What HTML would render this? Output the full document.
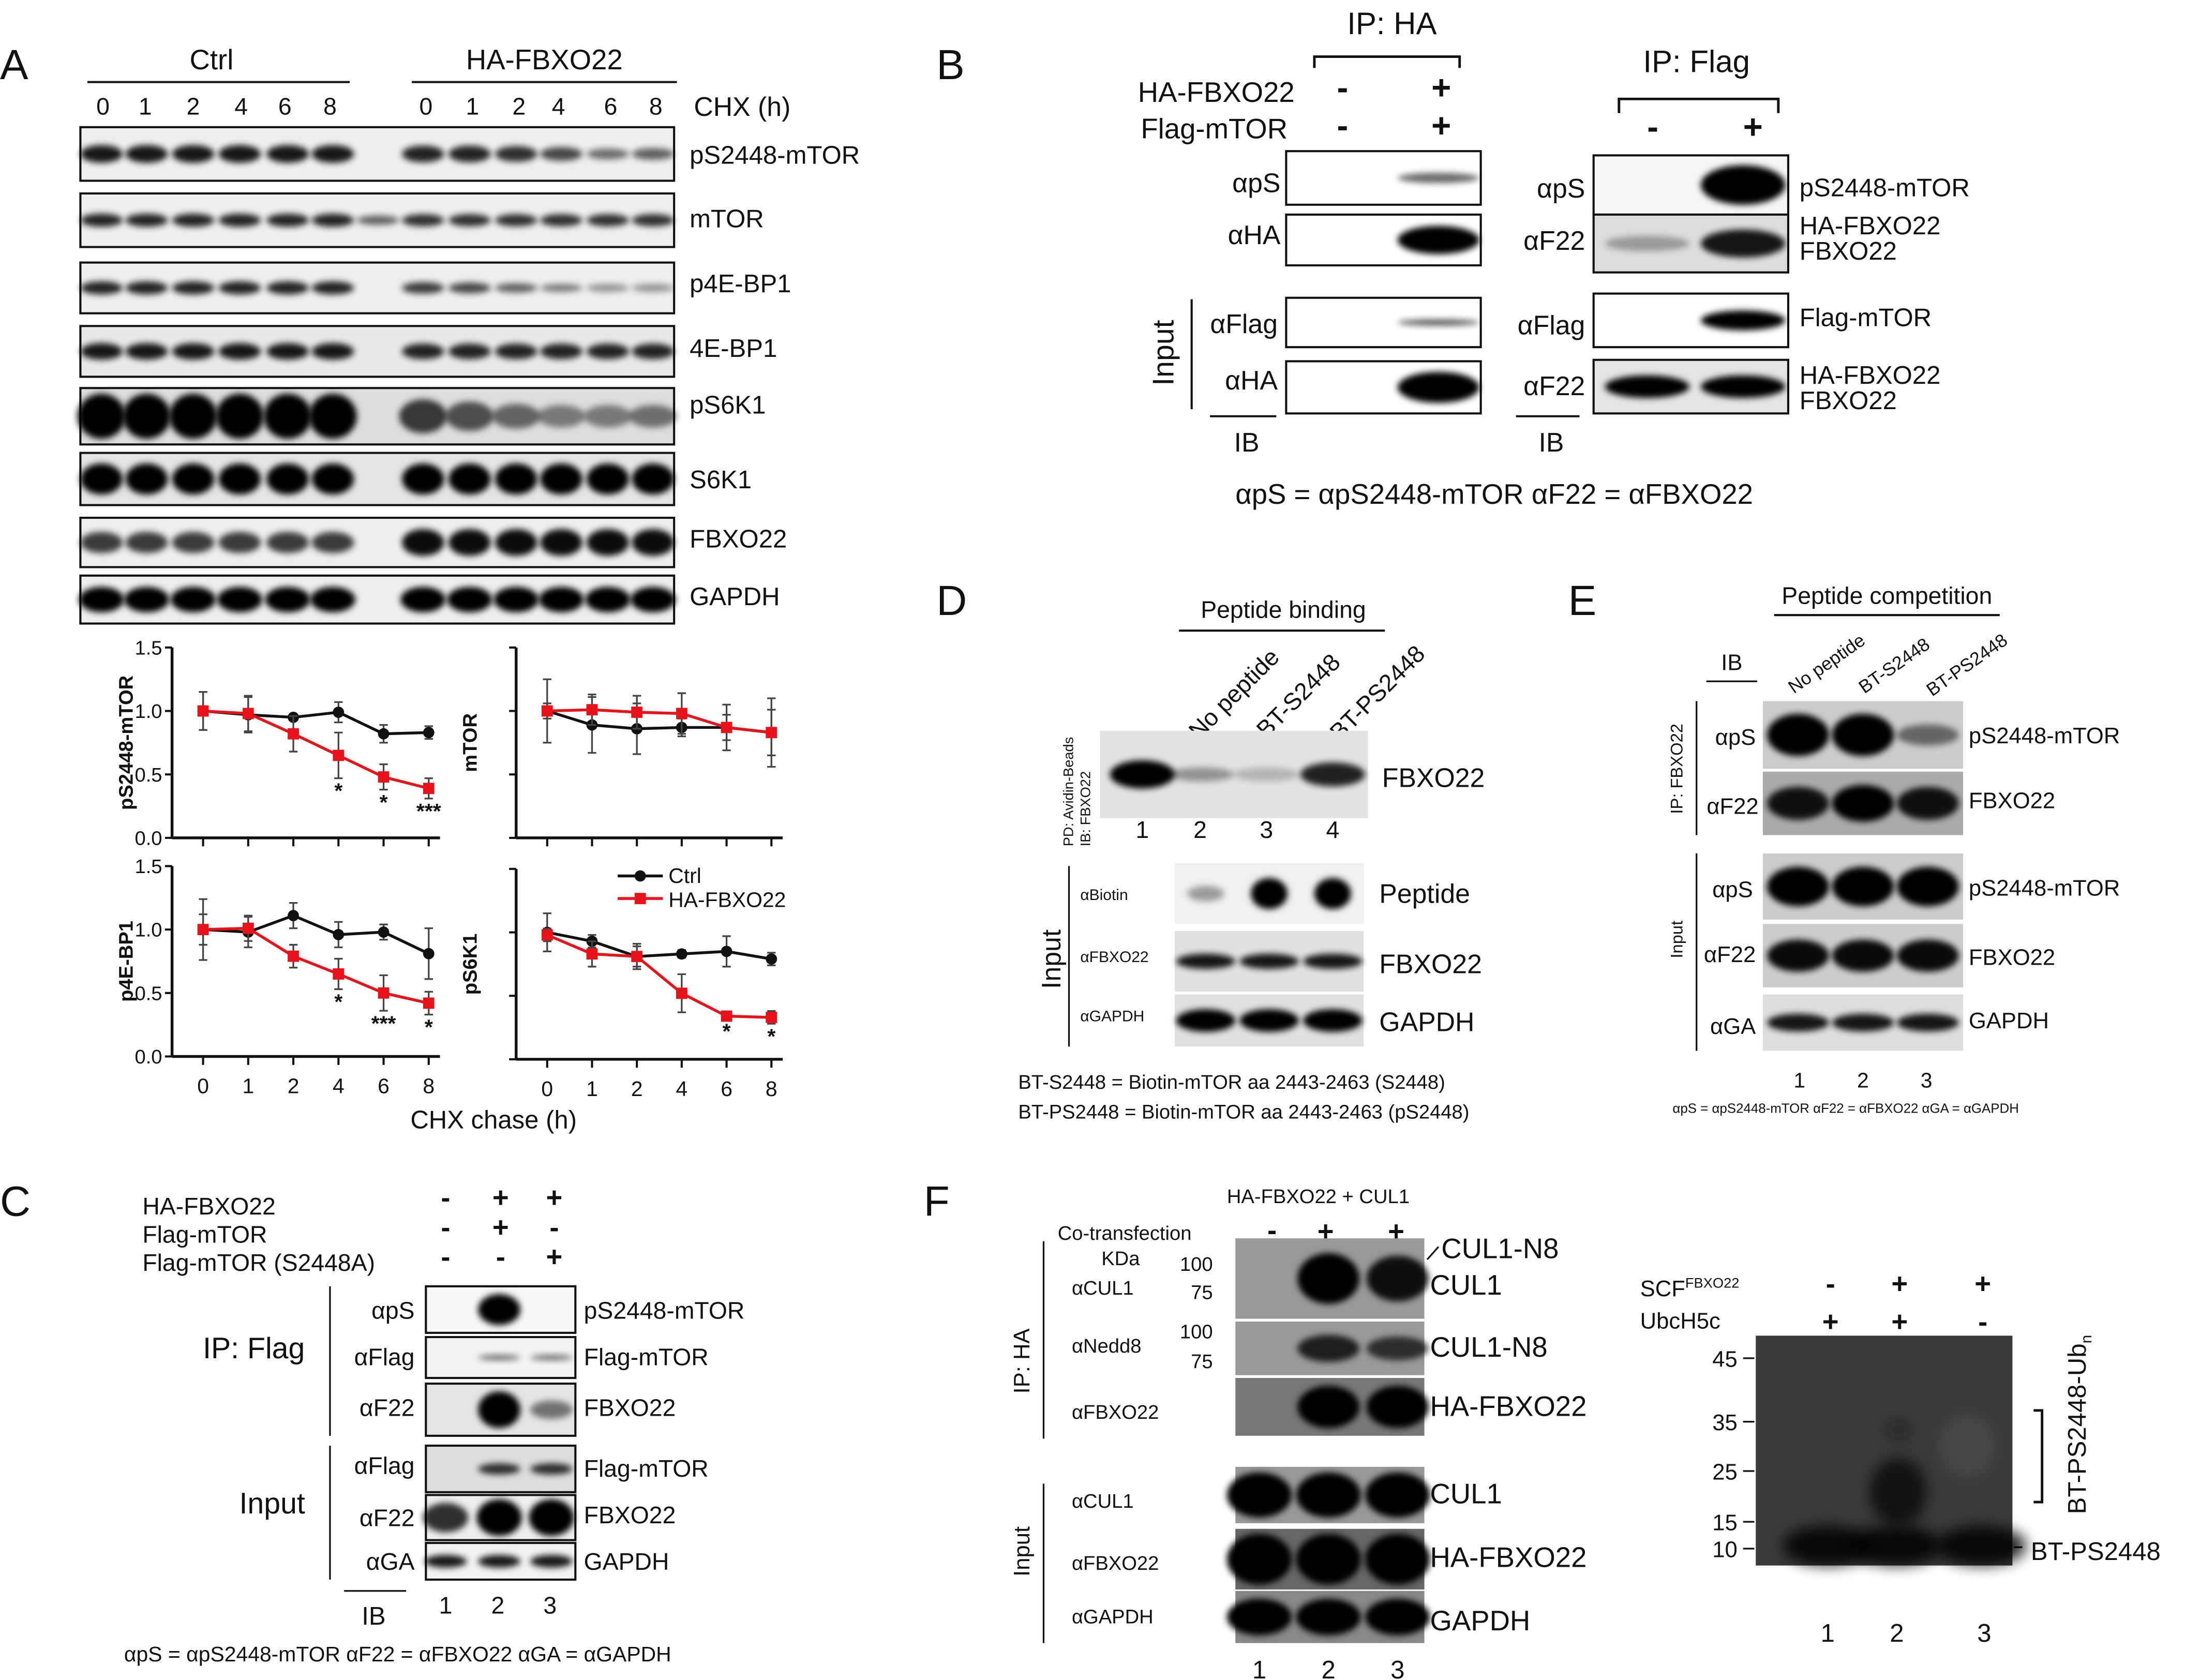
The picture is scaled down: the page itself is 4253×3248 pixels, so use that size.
<!DOCTYPE html>
<html><head><meta charset="utf-8">
<style>
html,body{margin:0;padding:0;background:#fff;}
svg{display:block;}
text{font-family:"Liberation Sans",Arial,sans-serif;fill:#111;}
</style></head>
<body>
<svg id="fig" width="4253" height="3248" viewBox="0 0 1560 1191" xmlns="http://www.w3.org/2000/svg">
<defs>
<filter id="blur" x="-50%" y="-100%" width="200%" height="300%"><feGaussianBlur stdDeviation="2.2"/></filter>
<filter id="blur2" x="-50%" y="-100%" width="200%" height="300%"><feGaussianBlur stdDeviation="5"/></filter>
</defs>

<!-- ============ PANEL A ============ -->
<g>
<text x="0" y="56" font-size="30">A</text>
<text x="150" y="49" font-size="20" text-anchor="middle">Ctrl</text>
<line x1="62" y1="58" x2="248" y2="58" stroke="#111" stroke-width="1.5"/>
<text x="386" y="49" font-size="20" text-anchor="middle">HA-FBXO22</text>
<line x1="292" y1="58" x2="480" y2="58" stroke="#111" stroke-width="1.5"/>
<g font-size="17" text-anchor="middle">
<text x="73" y="81">0</text><text x="103" y="81">1</text><text x="137" y="81">2</text><text x="171" y="81">4</text><text x="202" y="81">6</text><text x="234" y="81">8</text>
<text x="302" y="81">0</text><text x="335" y="81">1</text><text x="368" y="81">2</text><text x="396" y="81">4</text><text x="433" y="81">6</text><text x="465" y="81">8</text>
</g>
<text x="492" y="82" font-size="19">CHX (h)</text>
<g id="blotsA"></g>
<g font-size="18">
<text x="489" y="116">pS2448-mTOR</text><text x="489" y="161">mTOR</text><text x="489" y="207">p4E-BP1</text>
<text x="489" y="253">4E-BP1</text><text x="489" y="293">pS6K1</text><text x="489" y="346">S6K1</text>
<text x="489" y="388">FBXO22</text><text x="489" y="429">GAPDH</text>
</g>
<g id="chartsA"></g>
<text x="350" y="800" font-size="18" text-anchor="middle">CHX chase (h)</text>
</g>

<!-- ============ PANEL B ============ -->
<g>
<text x="664" y="56" font-size="30">B</text>
<text x="987" y="24" font-size="22" text-anchor="middle">IP: HA</text>
<path d="M932 48 V40 H1035 V48" fill="none" stroke="#111" stroke-width="1.8"/>
<text x="1203" y="51" font-size="22" text-anchor="middle">IP: Flag</text>
<path d="M1148 80 V70 H1261 V80" fill="none" stroke="#111" stroke-width="1.8"/>
<text x="918" y="72" font-size="20" text-anchor="end">HA-FBXO22</text>
<text x="913" y="98" font-size="20" text-anchor="end">Flag-mTOR</text>
<g font-size="24" font-weight="bold" text-anchor="middle">
<text x="952" y="70">-</text><text x="1022" y="70">+</text>
<text x="952" y="97">-</text><text x="1022" y="97">+</text>
<text x="1172" y="98">-</text><text x="1243" y="98">+</text>
</g>
<g font-size="19" text-anchor="end">
<text x="908" y="136">αpS</text><text x="908" y="173">αHA</text>
<text x="906" y="236">αFlag</text><text x="906" y="276">αHA</text>
<text x="1124" y="140">αpS</text><text x="1124" y="177">αF22</text>
<text x="1124" y="237">αFlag</text><text x="1124" y="280">αF22</text>
</g>
<text transform="translate(832,250) rotate(-90)" font-size="21" text-anchor="middle">Input</text>
<line x1="845" y1="212" x2="845" y2="290" stroke="#111" stroke-width="1.5"/>
<line x1="858" y1="295" x2="905" y2="295" stroke="#111" stroke-width="1.5"/>
<text x="884" y="320" font-size="19" text-anchor="middle">IB</text>
<line x1="1075" y1="295" x2="1120" y2="295" stroke="#111" stroke-width="1.5"/>
<text x="1100" y="320" font-size="19" text-anchor="middle">IB</text>
<g font-size="18">
<text x="1276" y="139">pS2448-mTOR</text><text x="1276" y="166">HA-FBXO22</text><text x="1276" y="184">FBXO22</text>
<text x="1276" y="231">Flag-mTOR</text><text x="1276" y="272">HA-FBXO22</text><text x="1276" y="290">FBXO22</text>
</g>
<text x="876" y="357" font-size="20">αpS = αpS2448-mTOR    αF22 = αFBXO22</text>
<g id="blotsB"></g>
</g>

<!-- ============ PANEL D ============ -->
<g>
<text x="664" y="436" font-size="30">D</text>
<text x="910" y="438" font-size="17" text-anchor="middle">Peptide binding</text>
<line x1="836" y1="447" x2="982" y2="447" stroke="#111" stroke-width="1.5"/>
<g font-size="17">
<text transform="translate(850,525) rotate(-45)">No peptide</text>
<text transform="translate(898,524) rotate(-45)">BT-S2448</text>
<text transform="translate(950,526) rotate(-45)">BT-PS2448</text>
</g>
<text transform="translate(761,600) rotate(-90)" font-size="10">PD: Avidin-Beads</text>
<text transform="translate(773,600) rotate(-90)" font-size="10">IB: FBXO22</text>
<text x="980" y="558" font-size="19">FBXO22</text>
<g font-size="17" text-anchor="middle"><text x="810" y="594">1</text><text x="851" y="594">2</text><text x="898" y="594">3</text><text x="945" y="594">4</text></g>
<text transform="translate(752,680) rotate(-90)" font-size="19" text-anchor="middle">Input</text>
<line x1="758" y1="614" x2="758" y2="742" stroke="#111" stroke-width="1.2"/>
<g font-size="11"><text x="766" y="638">αBiotin</text><text x="766" y="682">αFBXO22</text><text x="766" y="724">αGAPDH</text></g>
<g font-size="19"><text x="978" y="640">Peptide</text><text x="978" y="690">FBXO22</text><text x="978" y="731">GAPDH</text></g>
<text x="722" y="772" font-size="14">BT-S2448 = Biotin-mTOR aa 2443-2463 (S2448)</text>
<text x="722" y="793" font-size="14">BT-PS2448 = Biotin-mTOR aa 2443-2463 (pS2448)</text>
<g id="blotsD"></g>
</g>

<!-- ============ PANEL E ============ -->
<g>
<text x="1112" y="436" font-size="30">E</text>
<text x="1338" y="428" font-size="17" text-anchor="middle">Peptide competition</text>
<line x1="1258" y1="436" x2="1418" y2="436" stroke="#111" stroke-width="1.5"/>
<text x="1228" y="475" font-size="16" text-anchor="middle">IB</text>
<line x1="1210" y1="483" x2="1246" y2="483" stroke="#111" stroke-width="1.2"/>
<g font-size="13">
<text transform="translate(1272,492) rotate(-35)">No peptide</text>
<text transform="translate(1322,492) rotate(-35)">BT-S2448</text>
<text transform="translate(1370,494) rotate(-35)">BT-PS2448</text>
</g>
<g font-size="16" text-anchor="end">
<text x="1245" y="528">αpS</text><text x="1247" y="577">αF22</text>
<text x="1243" y="636">αpS</text><text x="1245" y="682">αF22</text><text x="1245" y="733">αGA</text>
</g>
<text transform="translate(1193,545) rotate(-90)" font-size="12" text-anchor="middle">IP: FBXO22</text>
<text transform="translate(1193,666) rotate(-90)" font-size="12" text-anchor="middle">Input</text>
<line x1="1203" y1="497" x2="1203" y2="592" stroke="#111" stroke-width="1.2"/>
<line x1="1203" y1="605" x2="1203" y2="745" stroke="#111" stroke-width="1.2"/>
<g font-size="16"><text x="1396" y="527">pS2448-mTOR</text><text x="1396" y="573">FBXO22</text><text x="1396" y="635">pS2448-mTOR</text><text x="1396" y="684">FBXO22</text><text x="1396" y="729">GAPDH</text></g>
<g font-size="15" text-anchor="middle"><text x="1276" y="771">1</text><text x="1321" y="771">2</text><text x="1366" y="771">3</text></g>
<text x="1186" y="789" font-size="9.5">αpS = αpS2448-mTOR      αF22 = αFBXO22      αGA = αGAPDH</text>
<g id="blotsE"></g>
</g>

<!-- ============ PANEL C ============ -->
<g>
<text x="0" y="862" font-size="30">C</text>
<g font-size="17"><text x="101" y="861">HA-FBXO22</text><text x="101" y="881">Flag-mTOR</text><text x="101" y="901">Flag-mTOR (S2448A)</text></g>
<g font-size="20" font-weight="bold" text-anchor="middle">
<text x="316" y="856">-</text><text x="355" y="856">+</text><text x="393" y="856">+</text>
<text x="316" y="877">-</text><text x="355" y="877">+</text><text x="393" y="877">-</text>
<text x="316" y="898">-</text><text x="355" y="898">-</text><text x="393" y="898">+</text>
</g>
<g font-size="17" text-anchor="end">
<text x="294" y="935">αpS</text><text x="294" y="968">αFlag</text><text x="294" y="1004">αF22</text>
<text x="294" y="1045">αFlag</text><text x="294" y="1082">αF22</text><text x="294" y="1113">αGA</text>
</g>
<text x="180" y="963" font-size="21" text-anchor="middle">IP: Flag</text>
<text x="193" y="1073" font-size="21" text-anchor="middle">Input</text>
<line x1="234" y1="912" x2="234" y2="1018" stroke="#111" stroke-width="1.2"/>
<line x1="234" y1="1025" x2="234" y2="1120" stroke="#111" stroke-width="1.2"/>
<line x1="244" y1="1128" x2="288" y2="1128" stroke="#111" stroke-width="1.2"/>
<text x="265" y="1152" font-size="18" text-anchor="middle">IB</text>
<g font-size="17" text-anchor="middle"><text x="316" y="1144">1</text><text x="353" y="1144">2</text><text x="390" y="1144">3</text></g>
<g font-size="17"><text x="414" y="935">pS2448-mTOR</text><text x="414" y="968">Flag-mTOR</text><text x="414" y="1004">FBXO22</text>
<text x="414" y="1047">Flag-mTOR</text><text x="414" y="1080">FBXO22</text><text x="414" y="1113">GAPDH</text></g>
<text x="88" y="1178" font-size="15">αpS = αpS2448-mTOR   αF22 = αFBXO22 αGA = αGAPDH</text>
<g id="blotsC"></g>
</g>

<!-- ============ PANEL F ============ -->
<g>
<text x="655" y="862" font-size="30">F</text>
<text x="870" y="853" font-size="14">HA-FBXO22 + CUL1</text>
<text x="750" y="879" font-size="14">Co-transfection</text>
<g font-size="20" font-weight="bold" text-anchor="middle"><text x="902" y="879">-</text><text x="940" y="880">+</text><text x="990" y="880">+</text></g>
<text x="781" y="897" font-size="14">KDa</text>
<g font-size="14" text-anchor="end"><text x="860" y="901">100</text><text x="860" y="921">75</text><text x="860" y="949">100</text><text x="860" y="970">75</text></g>
<g font-size="14"><text x="760" y="918">αCUL1</text><text x="760" y="959">αNedd8</text><text x="760" y="1006">αFBXO22</text>
<text x="760" y="1069">αCUL1</text><text x="760" y="1113">αFBXO22</text><text x="760" y="1151">αGAPDH</text></g>
<text transform="translate(730,965) rotate(-90)" font-size="16" text-anchor="middle">IP: HA</text>
<text transform="translate(730,1100) rotate(-90)" font-size="16" text-anchor="middle">Input</text>
<line x1="740" y1="880" x2="740" y2="1020" stroke="#111" stroke-width="1.2"/>
<line x1="740" y1="1052" x2="740" y2="1165" stroke="#111" stroke-width="1.2"/>
<g font-size="20"><text x="1022" y="892">CUL1-N8</text><text x="1014" y="918">CUL1</text><text x="1014" y="962">CUL1-N8</text><text x="1014" y="1004">HA-FBXO22</text>
<text x="1014" y="1066">CUL1</text><text x="1014" y="1111">HA-FBXO22</text><text x="1014" y="1156">GAPDH</text></g>
<line x1="1012" y1="893" x2="1020" y2="884" stroke="#111" stroke-width="1.2"/>
<g font-size="18" text-anchor="middle"><text x="893" y="1190">1</text><text x="942" y="1190">2</text><text x="991" y="1190">3</text></g>

<text x="1163" y="919" font-size="16">SCF<tspan font-size="10" dy="-6">FBXO22</tspan></text>
<text x="1163" y="942" font-size="16">UbcH5c</text>
<g font-size="20" font-weight="bold" text-anchor="middle">
<text x="1298" y="917">-</text><text x="1347" y="917">+</text><text x="1406" y="917">+</text>
<text x="1298" y="944">+</text><text x="1347" y="944">+</text><text x="1406" y="944">-</text>
</g>
<g font-size="16" text-anchor="end"><text x="1232" y="969">45</text><text x="1232" y="1014">35</text><text x="1232" y="1049">25</text><text x="1232" y="1085">15</text><text x="1232" y="1104">10</text></g>
<g stroke="#111" stroke-width="1.2"><line x1="1236" y1="963" x2="1244" y2="963"/><line x1="1236" y1="1008" x2="1244" y2="1008"/><line x1="1236" y1="1043" x2="1244" y2="1043"/><line x1="1236" y1="1079" x2="1244" y2="1079"/><line x1="1236" y1="1098" x2="1244" y2="1098"/><line x1="1428" y1="1097" x2="1434" y2="1097"/></g>
<text x="1440" y="1106" font-size="18">BT-PS2448</text>
<path d="M1442 1000 H1448 V1065 H1442" fill="none" stroke="#111" stroke-width="1.8"/>
<text transform="translate(1479,1010) rotate(-90)" font-size="18" text-anchor="middle">BT-PS2448-Ub<tspan font-size="11" dy="4">n</tspan></text>
<g font-size="18" text-anchor="middle"><text x="1296" y="1164">1</text><text x="1345" y="1164">2</text><text x="1407" y="1164">3</text></g>
<g id="blotsF"></g>
</g>
</svg>

<script>
const NS = "http://www.w3.org/2000/svg";
// ---------------- chart data (panel A quantification) ----------------
const timeLabels = ["0","1","2","4","6","8"];
const yTicks = [0.0, 0.5, 1.0, 1.5];
const yTickLabels = ["0.0","0.5","1.0","1.5"];
const pS2448Ctrl = [1.0, 0.97, 0.95, 0.99, 0.82, 0.83];
const pS2448CtrlErr = [0.15, 0.14, 0.02, 0.08, 0.07, 0.05];
const pS2448Ha = [1.0, 0.98, 0.82, 0.65, 0.48, 0.39];
const pS2448HaErr = [0.15, 0.14, 0.14, 0.18, 0.10, 0.08];
const pS2448Stars = ["", "", "", "*", "*", "***"];
const mtorCtrl = [1.0, 0.89, 0.86, 0.87, 0.87, 0.83];
const mtorCtrlErr = [0.25, 0.22, 0.20, 0.07, 0.18, 0.18];
const mtorHa = [1.0, 1.01, 0.99, 0.98, 0.87, 0.83];
const mtorHaErr = [0.06, 0.12, 0.13, 0.16, 0.10, 0.27];
const mtorStars = ["", "", "", "", "", ""];
const p4ebp1Ctrl = [1.0, 0.98, 1.11, 0.96, 0.98, 0.81];
const p4ebp1CtrlErr = [0.24, 0.12, 0.10, 0.10, 0.06, 0.20];
const p4ebp1Ha = [1.0, 1.01, 0.79, 0.65, 0.50, 0.42];
const p4ebp1HaErr = [0.12, 0.10, 0.09, 0.12, 0.14, 0.09];
const p4ebp1Stars = ["", "", "", "*", "***", "*"];
const ps6k1Ctrl = [1.0, 0.93, 0.81, 0.83, 0.85, 0.79];
const ps6k1CtrlErr = [0.15, 0.05, 0.08, 0.03, 0.12, 0.05];
const ps6k1Ha = [0.98, 0.83, 0.81, 0.52, 0.34, 0.33];
const ps6k1HaErr = [0.05, 0.10, 0.10, 0.15, 0.02, 0.05];
const ps6k1Stars = ["", "", "", "", "*", "*"];

function el(tag, attrs, parent){
  const e = document.createElementNS(NS, tag);
  for (const k in attrs) e.setAttribute(k, attrs[k]);
  (parent||document.getElementById("fig")).appendChild(e);
  return e;
}

const chartsA = document.getElementById("chartsA");
function drawChart(name, x0, x1, yBase, showTickLabels, showXLabels, title, ctrl, ctrlErr, ha, haErr, stars){
  const g = el("g", {}, chartsA);
  
  
  const px0 = x0 + 22, px1 = x1 - 8;
  const xs = i => px0 + (px1 - px0) * i / (timeLabels.length - 1);
  const ys = v => yBase - v / 1.5 * 135;
  el("line", {x1:x0, y1:yBase, x2:x1, y2:yBase, stroke:"#111", "stroke-width":2}, g);
  el("line", {x1:x0, y1:yBase, x2:x0, y2:ys(1.5), stroke:"#111", "stroke-width":2}, g);
  yTicks.forEach((t, i) => {
    el("line", {x1:x0-5, y1:ys(t), x2:x0, y2:ys(t), stroke:"#111", "stroke-width":1.5}, g);
    if (showTickLabels) {
      const tl = el("text", {x:x0-7, y:ys(t)+5, "font-size":14, "text-anchor":"end"}, g);
      tl.textContent = yTickLabels[i];
    }
  });
  timeLabels.forEach((lab, i) => {
    el("line", {x1:xs(i), y1:yBase, x2:xs(i), y2:yBase+6, stroke:"#111", "stroke-width":1.5}, g);
    if (showXLabels) {
      const tl = el("text", {x:xs(i), y:yBase+26, "font-size":15, "text-anchor":"middle"}, g);
      tl.textContent = lab;
    }
  });
  const yl = el("text", {transform:`translate(${x0-28},${ys(0.75)}) rotate(-90)`, "font-size":14, "font-weight":"bold", "text-anchor":"middle"}, g);
  
  
  yl.textContent = title;
  [[ctrl, ctrlErr, "#111", "ctrl"], [ha, haErr, "#e8121a", "ha"]].forEach(([vals, errs, col, key]) => {
    vals.forEach((v, i) => {
      el("line", {x1:xs(i), y1:ys(v-errs[i]), x2:xs(i), y2:ys(v+errs[i]), stroke:"#444", "stroke-width":1.2}, g);
      el("line", {x1:xs(i)-3, y1:ys(v-errs[i]), x2:xs(i)+3, y2:ys(v-errs[i]), stroke:"#444", "stroke-width":1.2}, g);
      el("line", {x1:xs(i)-3, y1:ys(v+errs[i]), x2:xs(i)+3, y2:ys(v+errs[i]), stroke:"#444", "stroke-width":1.2}, g);
    });
    const pl = el("polyline", {points: vals.map((v,i)=>xs(i)+","+ys(v)).join(" "), fill:"none", stroke:col, "stroke-width":2}, g);
    
    
    vals.forEach((v, i) => {
      let m;
      if (key === "ctrl") m = el("circle", {cx:xs(i), cy:ys(v), r:4, fill:col}, g);
      else m = el("rect", {x:xs(i)-4, y:ys(v)-4, width:8, height:8, fill:col}, g);
      
      
    });
  });
  stars.forEach((s, i) => {
    if (!s) return;
    const st = el("text", {x:xs(i), y:ys(ha[i]-haErr[i])+14, "font-size":15, "font-weight":"bold", "text-anchor":"middle"}, g);
    st.textContent = s;
  });
}
drawChart("chart-ps2448-mtor", 122, 312, 594, true, false, "pS2448-mTOR", pS2448Ctrl, pS2448CtrlErr, pS2448Ha, pS2448HaErr, pS2448Stars);
drawChart("chart-mtor", 366, 555, 594, false, false, "mTOR", mtorCtrl, mtorCtrlErr, mtorHa, mtorHaErr, mtorStars);
drawChart("chart-p4e-bp1", 122, 312, 749, true, true, "p4E-BP1", p4ebp1Ctrl, p4ebp1CtrlErr, p4ebp1Ha, p4ebp1HaErr, p4ebp1Stars);
drawChart("chart-ps6k1", 366, 555, 751, false, true, "pS6K1", ps6k1Ctrl, ps6k1CtrlErr, ps6k1Ha, ps6k1HaErr, ps6k1Stars);
// legend
const lg = el("g", {}, chartsA);


el("line", {x1:438, y1:621, x2:470, y2:621, stroke:"#111", "stroke-width":2}, lg);
el("circle", {cx:454, cy:621, r:4, fill:"#111"}, lg);
const l1 = el("text", {x:474, y:626, "font-size":15}, lg); l1.textContent = "Ctrl";
el("line", {x1:438, y1:637, x2:470, y2:637, stroke:"#e8121a", "stroke-width":2}, lg);
el("rect", {x:450, y:633, width:8, height:8, fill:"#e8121a"}, lg);
const l2 = el("text", {x:474, y:643, "font-size":15}, lg); l2.textContent = "HA-FBXO22";

// ---------------- blots ----------------
function blot(parentId, name, x, y, w, h, bg, lanes, intens, bw, bh, border){
  const g = el("g", {}, document.getElementById(parentId));
  
  
  el("rect", {x:x, y:y, width:w, height:h, fill:bg, stroke: border===false?"none":"#111", "stroke-width":1.5}, g);
  lanes.forEach((lx, i) => {
    if (intens[i] <= 0) return;
    el("ellipse", {cx:lx, cy:y+h/2, rx:bw/2, ry:bh/2*Math.max(0.5,intens[i]), fill:"#000", opacity:Math.min(1,intens[i]), filter:"url(#blur)"}, g);
  });
  return g;
}
const LA = [72,104,137,170,204,236,300,333,366,398,431,463];
blot("blotsA","blot-ps2448-mtor",57,90,421,38,"#eee",LA,[.9,.9,.9,.9,.9,.9,.85,.85,.8,.7,.55,.6],30,14);
blot("blotsA","blot-mtor",57,137,421,38,"#eee",LA.concat([268]),[.85,.85,.85,.85,.85,.85,.8,.8,.8,.8,.8,.8,.6],30,11);
blot("blotsA","blot-p4e-bp1",57,186,421,36,"#eee",LA,[.85,.85,.85,.85,.85,.85,.75,.7,.6,.5,.4,.4],30,11);
blot("blotsA","blot-4e-bp1",57,231,421,36,"#e8e8e8",LA,[.9,.9,.9,.9,.9,.9,.85,.85,.85,.85,.85,.85],30,13);
blot("blotsA","blot-ps6k1",57,275,421,40,"#ddd",LA,[1,1,1,1,1,1,.75,.65,.55,.45,.45,.5],34,32);
blot("blotsA","blot-s6k1",57,321,421,37,"#e5e5e5",LA,[1,1,1,1,1,1,1,1,1,1,1,1],30,22);
blot("blotsA","blot-fbxo22",57,367,421,35,"#eee",LA,[.75,.75,.75,.75,.75,.75,.95,.95,.95,.95,.95,.95],30,20);
blot("blotsA","blot-gapdh",57,408,421,34,"#eee",LA,[1,1,1,1,1,1,1,1,1,1,1,1],32,18);

const LB = [950,1020], LB2 = [1168,1236];
blot("blotsB","blot-b-aps",912,107,138,38,"#fff",LB,[0,.6],58,12);
blot("blotsB","blot-b-aha",912,152,138,36,"#fff",LB,[0,1],58,20);
blot("blotsB","blot-b-aflag",912,211,138,35,"#fff",LB,[0,.7],58,6);
blot("blotsB","blot-b-aha-input",912,256,138,37,"#fff",LB,[0,1],58,22);
blot("blotsB","blot-b-flag-aps",1130,110,138,42,"#f6f6f6",LB2,[0,1],60,28);
blot("blotsB","blot-b-flag-af22",1130,152,138,41,"#ddd",LB2,[0.3,0.9],60,22);
blot("blotsB","blot-b-flag-aflag",1130,208,138,38,"#fff",LB2,[0,1],60,14);
blot("blotsB","blot-b-flag-af22-input",1130,255,138,38,"#e5e5e5",LB2,[1,1],60,16);

blot("blotsD","blot-d-fbxo22",780,518,190,62,"#e2e2e2",[810,852,898,945],[1,.35,.2,.85],46,20,false);
blot("blotsD","blot-d-biotin",833,612,134,43,"#f0f0f0",[855,900,945],[.35,1,1],26,22,false);
blot("blotsD","blot-d-fbxo22-input",833,660,134,43,"#e0e0e0",[855,900,945],[.9,.9,.9],42,12,false);
blot("blotsD","blot-d-gapdh",833,705,134,37,"#e0e0e0",[855,900,945],[1,1,1],42,16,false);

const LE = [1275,1321,1367];
blot("blotsE","blot-e-aps",1250,497,142,48,"#ccc",LE,[1,1,.5],44,30,false);
blot("blotsE","blot-e-af22",1250,547,142,45,"#aaa",LE,[.9,1,.9],44,26,false);
blot("blotsE","blot-e-aps-input",1250,605,142,47,"#ccc",LE,[1,1,1],44,28,false);
blot("blotsE","blot-e-af22-input",1250,655,142,45,"#ccc",LE,[.95,.95,.95],44,24,false);
blot("blotsE","blot-e-aga",1250,705,142,40,"#ddd",LE,[.9,.9,.9],44,14,false);

const LC = [316,354,391];
blot("blotsC","blot-c-aps",302,912,106,33,"#f7f7f7",LC,[0,1,0],30,22);
blot("blotsC","blot-c-aflag",302,948,106,29,"#f3f3f3",LC,[0,.6,.6],30,6);
blot("blotsC","blot-c-af22",302,981,106,37,"#e5e5e5",LC,[0,1,.5],30,26);
blot("blotsC","blot-c-aflag-input",302,1025,106,33,"#ddd",LC,[0,.8,.8],30,10);
blot("blotsC","blot-c-af22-input",302,1060,106,32,"#eee",LC,[.8,1,1],32,26);
blot("blotsC","blot-c-aga",302,1094,106,26,"#f2f2f2",LC,[.9,.9,.9],30,10);

const LF = [893,942,991];
blot("blotsF","blot-f-acul1",876,878,134,57,"#999",LF,[0,1,.9],44,36,false);
blot("blotsF","blot-f-anedd8",876,937,134,38,"#999",LF,[0,.8,.7],44,24,false);
blot("blotsF","blot-f-afbxo22",876,977,134,41,"#777",LF,[0,1,1],44,30,false);
blot("blotsF","blot-f-acul1-input",876,1040,134,40,"#999",LF,[1,1,1],46,32,false);
blot("blotsF","blot-f-afbxo22-input",876,1084,134,43,"#666",LF,[1,1,1],46,36,false);
blot("blotsF","blot-f-agapdh",876,1128,134,37,"#888",LF,[1,1,1],46,26,false);
// ubiquitination gel
const gel = el("g", {}, document.getElementById("blotsF"));


el("rect", {x:1245, y:947, width:182, height:163, fill:"#3a3a3a"}, gel);
[1296,1345,1405].forEach(cx => el("ellipse", {cx:cx, cy:1096, rx:32, ry:14, fill:"#000", opacity:.85, filter:"url(#blur2)"}, gel));
el("ellipse", {cx:1346, cy:1058, rx:20, ry:24, fill:"#000", opacity:.7, filter:"url(#blur2)"}, gel);
el("ellipse", {cx:1346, cy:1014, rx:8, ry:6, fill:"#111", opacity:.5, filter:"url(#blur2)"}, gel);
el("ellipse", {cx:1395, cy:1025, rx:20, ry:22, fill:"#555", opacity:.5, filter:"url(#blur2)"}, gel);
</script>
</body></html>
